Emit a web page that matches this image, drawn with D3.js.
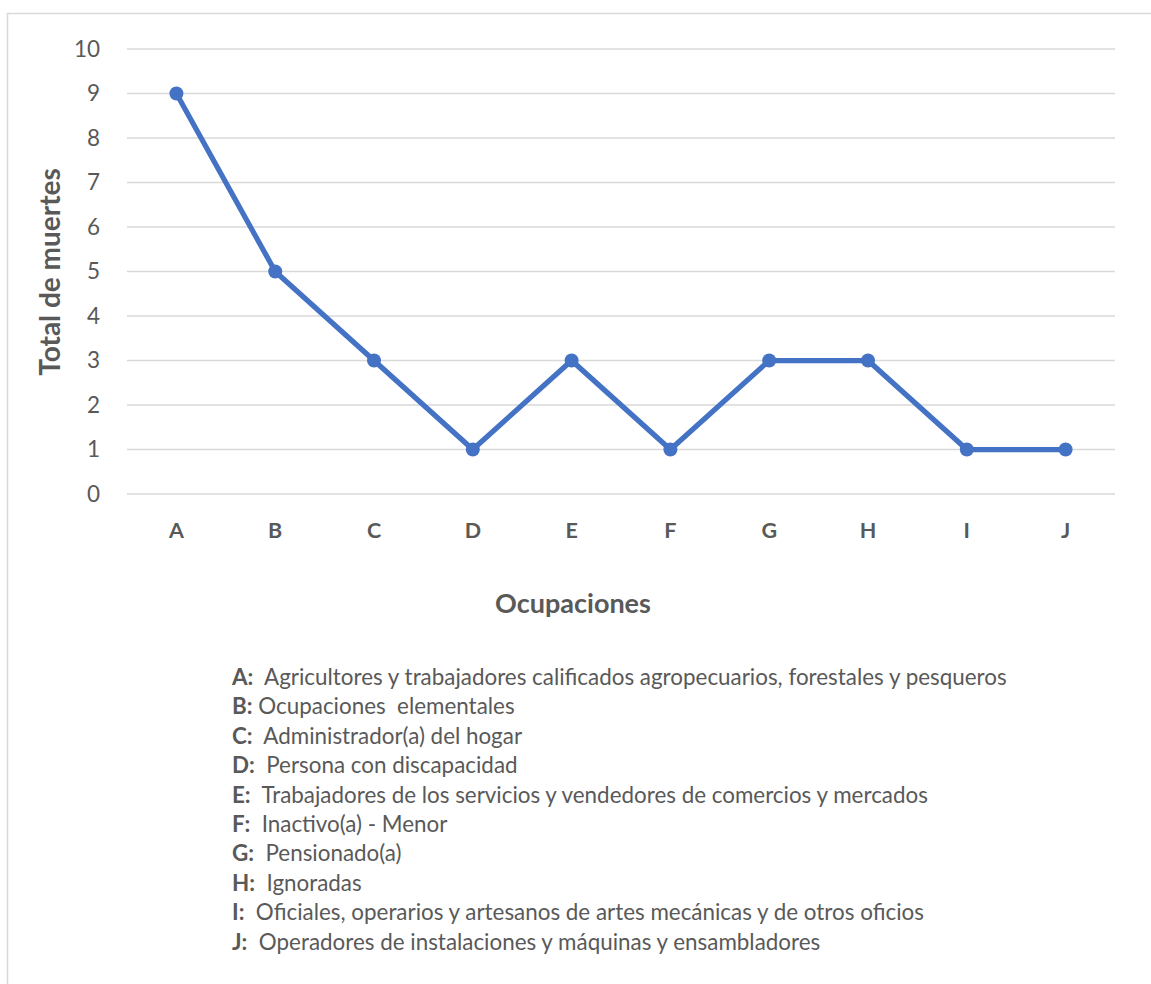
<!DOCTYPE html>
<html><head><meta charset="utf-8">
<script src="https://cdn.jsdelivr.net/npm/d3@7"></script>
<style>
body{margin:0;background:#fff;}
svg{display:block;font-family:Lato, "Open Sans", sans-serif;}
</style></head>
<body><svg id="c" width="1151" height="984"></svg>
<script>
const categories = ["A","B","C","D","E","F","G","H","I","J"];
const values = [9,5,3,1,3,1,3,3,1,1];
const yTicks = [0,1,2,3,4,5,6,7,8,9,10];
const legendKeys = ["A:","B:","C:","D:","E:","F:","G:","H:","I:","J:"];
const legendTexts = [
 "  Agricultores y trabajadores calificados agropecuarios, forestales y pesqueros",
 " Ocupaciones  elementales",
 "  Administrador(a) del hogar",
 "  Persona con discapacidad",
 "  Trabajadores de los servicios y vendedores de comercios y mercados",
 "  Inactivo(a) - Menor",
 "  Pensionado(a)",
 "  Ignoradas",
 "  Oficiales, operarios y artesanos de artes mecánicas y de otros oficios",
 "  Operadores de instalaciones y máquinas y ensambladores"
];

const svg = d3.select("#c");
svg.append("rect").attr("x",7.5).attr("y",13.5).attr("width",1200).attr("height",1200)
  .attr("fill","none").attr("stroke","#d9d9d9").attr("stroke-width",1.5);

const x = d3.scaleBand().domain(categories).range([127,1115]);
const y = d3.scaleLinear().domain([0,10]).range([494,49]);

const grid = svg.append("g");
grid.selectAll("line").data(yTicks).join("line")
  .attr("x1",127).attr("x2",1115).attr("y1",d=>y(d)).attr("y2",d=>y(d))
  .attr("stroke","#d9d9d9").attr("stroke-width",1.5);

const yAxis = svg.append("g").attr("transform","translate(127,0)")
  .call(d3.axisLeft(y).tickValues(yTicks).tickSize(0).tickPadding(27));
yAxis.select(".domain").remove();
yAxis.selectAll("text").attr("fill","#595959").attr("font-size","22.5px").attr("font-family","Lato, sans-serif");

const xAxis = svg.append("g").attr("transform","translate(0,494)")
  .call(d3.axisBottom(x).tickSize(0).tickPadding(29));
xAxis.select(".domain").remove();
xAxis.selectAll("text").attr("fill","#595959").attr("font-size","21.5px").attr("font-weight","bold").attr("font-family","Lato, sans-serif");

const line = d3.line().x((d,i)=>x(categories[i])+x.bandwidth()/2).y(d=>y(d));
svg.append("path").datum(values).attr("d",line).attr("fill","none")
  .attr("stroke","#4472C4").attr("stroke-width",5.25).attr("stroke-linejoin","round");
svg.selectAll("circle.pt").data(values).join("circle").attr("class","pt")
  .attr("cx",(d,i)=>x(categories[i])+x.bandwidth()/2).attr("cy",d=>y(d)).attr("r",7)
  .attr("fill","#4472C4");

svg.append("text").attr("x",573).attr("y",613).attr("text-anchor","middle")
  .attr("font-size","27px").attr("font-weight","bold").attr("fill","#595959").text("Ocupaciones");
svg.append("text").attr("transform","translate(60,272) rotate(-90)").attr("text-anchor","middle")
  .attr("font-size","28px").attr("font-weight","bold").attr("fill","#595959").text("Total de muertes");

const lg = svg.append("g");
legendKeys.forEach((k,i)=>{
  const t = lg.append("text").attr("x",232).attr("y",685+i*29.4).attr("font-size","22.4px")
    .attr("fill","#595959").attr("xml:space","preserve").style("white-space","pre");
  t.append("tspan").attr("font-weight","bold").text(k);
  t.append("tspan").text(legendTexts[i]);
});
</script></body></html>
